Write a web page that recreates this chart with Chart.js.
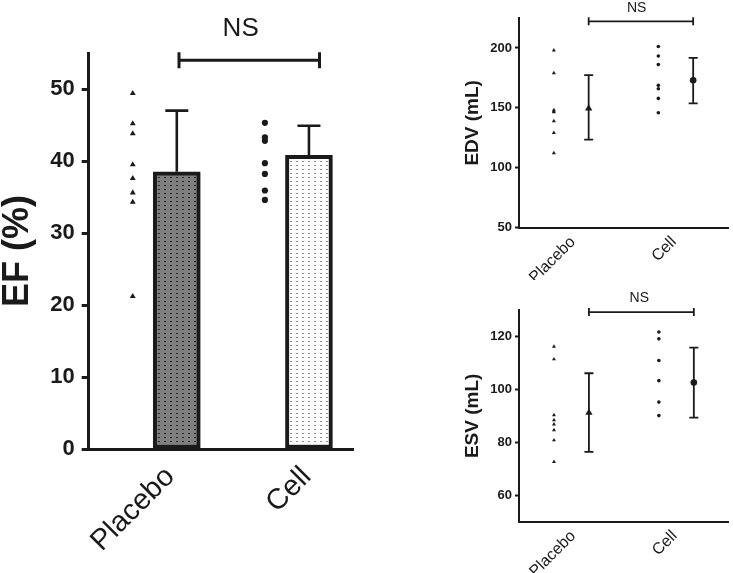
<!DOCTYPE html>
<html>
<head>
<meta charset="utf-8">
<script src="https://cdn.jsdelivr.net/npm/chart.js@4.4.0/dist/chart.umd.min.js"></script>
<style>
  body { margin: 0; background: #fff; }
  #wrap { position: relative; width: 733px; height: 573px; }
  .box { position: absolute; }
</style>
</head>
<body>
<div id="wrap">
  <div class="box" style="left:0;top:0;width:380px;height:573px"><canvas id="efChart"></canvas></div>
  <div class="box" style="left:400px;top:0;width:333px;height:280px"><canvas id="edvChart"></canvas></div>
  <div class="box" style="left:400px;top:280px;width:333px;height:293px"><canvas id="esvChart"></canvas></div>
</div>
<script>
const groups = ['Placebo', 'Cell'];

// EF (%) - individual values, mean and upper error
const efPlacebo = [49.4, 45.2, 43.8, 39.5, 37.6, 35.6, 34.3, 21.2];
const efCell = [45.3, 43.3, 42.8, 39.7, 38.2, 35.9, 34.6];
const efMean = [38.5, 40.8];
const efUpper = [47.0, 44.9];
const efTicks = [0, 10, 20, 30, 40, 50];

// EDV (mL)
const edvPlacebo = [198.1, 179.1, 148.1, 147.2, 146.4, 138.9, 129.1, 112.3];
const edvCell = [201.2, 193.3, 186.1, 168.8, 166.0, 157.9, 145.9];
const edvMean = [149.5, 173.0];
const edvLower = [123.5, 153.7];
const edvUpper = [177.4, 191.7];
const edvTicks = [50, 100, 150, 200];

// ESV (mL)
const esvPlacebo = [116.2, 111.4, 90.3, 88.4, 86.8, 84.6, 80.8, 72.6];
const esvCell = [121.7, 119.1, 110.9, 103.3, 95.2, 90.1];
const esvMean = [91.2, 102.6];
const esvLower = [76.4, 89.3];
const esvUpper = [106.1, 115.8];
const esvTicks = [60, 80, 100, 120];

// column slots on the x axis
const dotX = [1, 4];
const meanX = [2, 5];

const ink = '#1a1a1a';
Chart.defaults.font.family = '"Liberation Sans", Arial, sans-serif';
Chart.defaults.color = ink;

function dotPattern(bg, dot) {
    const c = document.createElement('canvas');
    c.width = 6; c.height = 4;
    const g = c.getContext('2d');
    g.fillStyle = bg; g.fillRect(0, 0, 6, 4);
    g.fillStyle = dot; g.fillRect(2, 1, 2, 1);
    return g.createPattern(c, 'repeat');
}

// error bars (under the markers) and NS bracket
const extras = {
    id: 'extras',
    beforeDatasetsDraw(chart, args, o) {
        const { ctx, scales: { x, y } } = chart;
        ctx.save();
        ctx.strokeStyle = ink;
        ctx.lineWidth = o.lineWidth;
        o.xs.forEach((xv, i) => {
            const px = x.getPixelForValue(xv);
            const hi = y.getPixelForValue(o.upper[i]);
            const lo = y.getPixelForValue(o.lower ? o.lower[i] : o.mean[i]);
            ctx.beginPath();
            ctx.moveTo(px, lo); ctx.lineTo(px, hi);
            ctx.moveTo(px - o.cap / 2, hi); ctx.lineTo(px + o.cap / 2, hi);
            if (o.lower) { ctx.moveTo(px - o.cap / 2, lo); ctx.lineTo(px + o.cap / 2, lo); }
            ctx.stroke();
        });
        ctx.restore();
    },
    afterDraw(chart, args, o) {
        const { ctx, scales: { x, y } } = chart;
        const b = o.bracket;
        const x0 = x.getPixelForValue(b.x0), x1 = x.getPixelForValue(b.x1);
        const by = y.getPixelForValue(b.y);
        ctx.save();
        ctx.strokeStyle = ink;
        ctx.lineWidth = b.lineWidth;
        ctx.beginPath();
        ctx.moveTo(x0, by); ctx.lineTo(x1, by);
        ctx.moveTo(x0, by - b.tick); ctx.lineTo(x0, by + b.tick);
        ctx.moveTo(x1, by - b.tick); ctx.lineTo(x1, by + b.tick);
        ctx.stroke();
        ctx.fillStyle = ink;
        ctx.font = b.fontSize + 'px "Liberation Sans", Arial, sans-serif';
        ctx.textAlign = 'center';
        ctx.textBaseline = 'middle';
        ctx.fillText('NS', x.getPixelForValue(b.textX), y.getPixelForValue(b.textY));
        ctx.restore();
    }
};

function xAxis(labelX, fontSize, pad, height, border) {
    return {
        type: 'linear', min: 0, max: 6, offset: false,
        grid: { display: true, drawOnChartArea: false, drawTicks: false, offset: false },
        border: { color: ink, width: border },
        afterBuildTicks: s => { s.ticks = labelX.map(v => ({ value: v })); },
        afterFit: s => { s.height = height; },
        ticks: {
            callback: (v, i) => groups[i],
            minRotation: 45, maxRotation: 45,
            font: { size: fontSize }, padding: pad, color: ink
        }
    };
}

function yAxis(min, max, tickVals, title, o) {
    return {
        min: min, max: max,
        afterBuildTicks: s => { s.ticks = tickVals.map(v => ({ value: v })); },
        afterFit: s => { s.width = o.width; },
        grid: { display: true, drawOnChartArea: false, tickLength: o.tickLen, tickWidth: o.border, color: ink },
        border: { color: ink, width: o.border },
        ticks: { font: { size: o.tickFont, weight: 'bold' }, padding: o.tickPad, color: ink },
        title: { display: true, text: title, color: ink, font: { size: o.titleFont, weight: 'bold', lineHeight: 1 }, padding: { top: o.titlePad, bottom: 0 } }
    };
}

// Left panel: EF bar chart
new Chart(document.getElementById('efChart'), {
    data: {
        datasets: [
            {
                type: 'bar',
                data: meanX.map((x, i) => ({ x: x, y: efMean[i] })),
                backgroundColor: [dotPattern('#7f7f7f', '#262626'), dotPattern('#ffffff', '#8c8c8c')],
                borderColor: ink, borderWidth: 4, borderSkipped: false, barThickness: 47
            },
            {
                type: 'scatter',
                data: efPlacebo.map(v => ({ x: dotX[0], y: v })),
                pointStyle: 'triangle', radius: 3.4, backgroundColor: ink, borderWidth: 0
            },
            {
                type: 'scatter',
                data: efCell.map(v => ({ x: dotX[1], y: v })),
                pointStyle: 'circle', radius: 3.1, backgroundColor: ink, borderWidth: 0
            }
        ]
    },
    options: {
        responsive: true, maintainAspectRatio: false, animation: false,
        layout: { padding: { left: 0, right: 27, top: 53, bottom: 0 } },
        plugins: {
            legend: { display: false }, tooltip: { enabled: false },
            extras: {
                xs: meanX, mean: efMean, upper: efUpper, cap: 23, lineWidth: 2.6,
                bracket: { x0: 2.05, x1: 5.24, y: 54.0, tick: 8, lineWidth: 3, textX: 3.45, textY: 58.4, fontSize: 26 }
            }
        },
        scales: {
            x: xAxis([1.85, 4.95], 29, 11, 124, 3),
            y: yAxis(0, 55, efTicks, 'EF (%)', { width: 88.7, tickLen: 7, border: 3, tickFont: 22, tickPad: 7, titleFont: 36, titlePad: 0 })
        }
    },
    plugins: [extras]
});

function smallPanel(id, placebo, cell, mean, lower, upper, min, max, tickVals, title, area, bracket) {
    new Chart(document.getElementById(id), {
        data: {
            datasets: [
                {
                    type: 'scatter',
                    data: placebo.map(v => ({ x: dotX[0], y: v })),
                    pointStyle: 'triangle', radius: 2.3, backgroundColor: ink, borderWidth: 0
                },
                {
                    type: 'scatter',
                    data: cell.map(v => ({ x: dotX[1], y: v })),
                    pointStyle: 'circle', radius: 1.8, backgroundColor: ink, borderWidth: 0
                },
                {
                    type: 'scatter',
                    data: meanX.map((x, i) => ({ x: x, y: mean[i] })),
                    pointStyle: ['triangle', 'circle'], radius: [4.2, 3.3], backgroundColor: ink, borderWidth: 0
                }
            ]
        },
        options: {
            responsive: true, maintainAspectRatio: false, animation: false,
            layout: { padding: { left: 0, right: area.right, top: area.top, bottom: 0 } },
            plugins: {
                legend: { display: false }, tooltip: { enabled: false },
                extras: { xs: meanX, mean: mean, lower: lower, upper: upper, cap: 9, lineWidth: 1.8, bracket: bracket }
            },
            scales: {
                x: xAxis([1.55, 4.45], 16, 5, area.xh, 2),
                y: yAxis(min, max, tickVals, title, { width: 119, tickLen: 4, border: 2, tickFont: 13, tickPad: 3, titleFont: 19, titlePad: 63.5 })
            }
        },
        plugins: [extras]
    });
}

smallPanel('edvChart', edvPlacebo, edvCell, edvMean, edvLower, edvUpper, 50, 225, edvTicks, 'EDV (mL)',
    { right: 5, top: 18, xh: 52.3 },
    { x0: 2, x1: 5, y: 222.2, tick: 4, lineWidth: 1.8, textX: 3.38, textY: 233.5, fontSize: 14 });

smallPanel('esvChart', esvPlacebo, esvCell, esvMean, esvLower, esvUpper, 50, 130, esvTicks, 'ESV (mL)',
    { right: 3, top: 30, xh: 51.3 },
    { x0: 2, x1: 5, y: 129.2, tick: 4, lineWidth: 1.8, textX: 3.44, textY: 134.6, fontSize: 14 });
</script>
</body>
</html>
